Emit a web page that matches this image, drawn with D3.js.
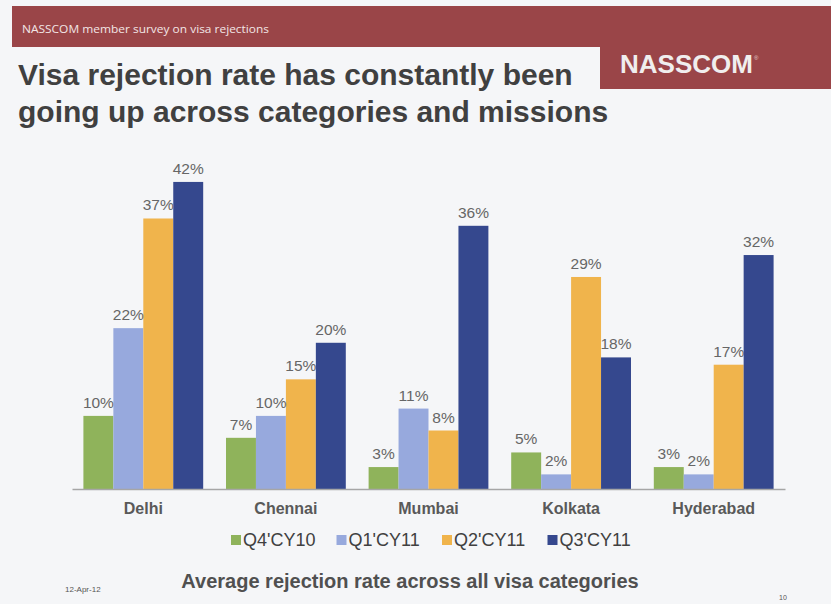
<!DOCTYPE html>
<html>
<head>
<meta charset="utf-8">
<script src="https://cdn.jsdelivr.net/npm/d3@7"></script>
<style>
  html, body { margin: 0; padding: 0; background: #f5f6f8; }
  svg { display: block; font-family: "Liberation Sans", Arial, sans-serif; }
</style>
</head>
<body>
<div id="chart"></div>
<script>
// data
var categories = ["Delhi", "Chennai", "Mumbai", "Kolkata", "Hyderabad"];
var seriesNames = ["Q4'CY10", "Q1'CY11", "Q2'CY11", "Q3'CY11"];
var q4cy10 = [10, 7, 3, 5, 3];
var q1cy11 = [22, 10, 11, 2, 2];
var q2cy11 = [37, 15, 8, 29, 17];
var q3cy11 = [42, 20, 36, 18, 32];
var seriesValues = [q4cy10, q1cy11, q2cy11, q3cy11];
var colors = ["#8fb35b", "#97a9dd", "#f0b44c", "#35488e"];

var width = 831, height = 604;
var svg = d3.select("#chart").append("svg")
    .attr("width", width)
    .attr("height", height);

svg.append("rect").attr("width", width).attr("height", height).attr("fill", "#f5f6f8");

// header band + logo box
var red = "#9a4548";
svg.append("rect").attr("x", 12).attr("y", 6).attr("width", width - 12).attr("height", 41).attr("fill", red);
svg.append("rect").attr("x", 600).attr("y", 46).attr("width", width - 600).attr("height", 43).attr("fill", red);

svg.append("text")
    .attr("x", 22).attr("y", 33)
    .attr("font-family", "'Open Sans', sans-serif")
    .attr("font-size", 10)
    .attr("textLength", 247)
    .attr("lengthAdjust", "spacingAndGlyphs")
    .attr("fill", "#f2e6e6")
    .text("NASSCOM member survey on visa rejections");

svg.append("text")
    .attr("x", 620).attr("y", 73)
    .attr("font-size", 26)
    .attr("font-weight", "bold")
    .attr("fill", "#f0eeee")
    .text("NASSCOM");
svg.append("text")
    .attr("x", 754).attr("y", 60)
    .attr("font-size", 6)
    .attr("fill", "#e8d0d0")
    .text("®");

// title
var title = svg.append("text")
    .attr("font-size", 30)
    .attr("font-weight", "bold")
    .attr("fill", "#404040");
title.append("tspan").attr("x", 18).attr("y", 85).text("Visa rejection rate has constantly been");
title.append("tspan").attr("x", 18).attr("y", 122).text("going up across categories and missions");

// scales
var x0 = d3.scaleBand()
    .domain(categories)
    .range([72, 785])
    .paddingInner(0.16)
    .paddingOuter(0.08);

var x1 = d3.scaleBand()
    .domain(d3.range(seriesNames.length))
    .range([0, x0.bandwidth()]);

var y = d3.scaleLinear()
    .domain([0, 45])
    .range([489, 160]);

// bars
var groups = svg.selectAll(".grp")
    .data(categories)
    .enter().append("g")
    .attr("class", "grp")
    .attr("transform", function(d) { return "translate(" + x0(d) + ",0)"; });

groups.selectAll("rect")
    .data(function(d, i) { return seriesValues.map(function(s, j) { return { s: j, v: s[i] }; }); })
    .enter().append("rect")
    .attr("x", function(d) { return x1(d.s); })
    .attr("y", function(d) { return y(d.v); })
    .attr("width", x1.bandwidth())
    .attr("height", function(d) { return y(0) - y(d.v); })
    .attr("fill", function(d) { return colors[d.s]; });

groups.selectAll("text")
    .data(function(d, i) { return seriesValues.map(function(s, j) { return { s: j, v: s[i] }; }); })
    .enter().append("text")
    .attr("x", function(d) { return x1(d.s) + x1.bandwidth() / 2; })
    .attr("y", function(d) { return y(d.v) - 8; })
    .attr("text-anchor", "middle")
    .attr("font-size", 15.5)
    .attr("fill", "#666666")
    .text(function(d) { return d.v + "%"; });

// x axis
var xAxis = d3.axisBottom(x0).tickSize(0).tickPadding(14);
var ax = svg.append("g")
    .attr("transform", "translate(0," + y(0) + ")")
    .call(xAxis);
ax.select(".domain").attr("stroke", "#a6a6a6").attr("stroke-width", 1.5);
ax.selectAll("text")
    .attr("font-family", "'Liberation Sans', Arial, sans-serif")
    .attr("font-size", 16)
    .attr("font-weight", "bold")
    .attr("fill", "#595959");

// legend
var legend = svg.selectAll(".leg")
    .data(seriesNames)
    .enter().append("g")
    .attr("class", "leg")
    .attr("transform", function(d, i) { return "translate(" + (231 + i * 105.5) + ",535)"; });
legend.append("rect").attr("width", 10).attr("height", 10)
    .attr("fill", function(d, i) { return colors[i]; });
legend.append("text")
    .attr("x", 12).attr("y", 10.5)
    .attr("font-size", 18)
    .attr("fill", "#404040")
    .text(function(d) { return d; });

// footer
svg.append("text")
    .attr("x", 410).attr("y", 588)
    .attr("text-anchor", "middle")
    .attr("font-size", 20)
    .attr("font-weight", "bold")
    .attr("fill", "#505050")
    .text("Average rejection rate across all visa categories");

svg.append("text")
    .attr("x", 65).attr("y", 592)
    .attr("font-size", 8)
    .attr("fill", "#555")
    .text("12-Apr-12");

svg.append("text")
    .attr("x", 779).attr("y", 600)
    .attr("font-size", 7)
    .attr("fill", "#555")
    .text("10");
</script>
</body>
</html>
